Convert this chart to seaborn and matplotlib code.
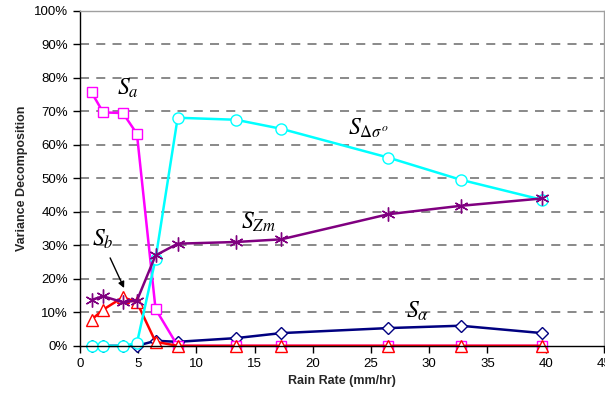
import matplotlib
matplotlib.use('Agg')
import matplotlib.pyplot as plt
import seaborn as sns
from matplotlib.ticker import PercentFormatter

# rain rate values (mm/hr)
rain = [1.0, 2.0, 3.7, 4.9, 6.5, 8.4, 13.4, 17.3, 26.5, 32.7, 39.7]

# variance decomposition (%) per term
s_alpha = [0, 0, 0, 0, 1.5, 1.2, 2.3, 3.8, 5.3, 6.0, 3.8]
s_a = [75.7, 69.7, 69.5, 63.3, 11.0, 0, 0, 0, 0, 0, 0]
s_b = [7.8, 10.8, 14.5, 13.0, 1.2, 0, 0, 0, 0, 0, 0]
s_dsig = [0, 0, 0, 0.8, 25.9, 68.1, 67.5, 64.8, 56.2, 49.6, 43.6]
s_zm = [13.7, 14.8, 13.0, 13.5, 27.0, 30.5, 31.0, 31.8, 39.3, 41.8, 44.0]

xticks = list(range(0, 50, 5))

sns.set_style('white')
plt.rcParams['font.family'] = ['Liberation Sans', 'DejaVu Sans']
plt.rcParams['mathtext.fontset'] = 'stix'

fig = plt.figure(figsize=(6.05, 4.04), dpi=100)
ax = fig.add_axes([0.132, 0.144, 0.866, 0.829])

series = [
    (s_alpha, '#000080', 'D', 6),
    (s_a, '#FF00FF', 's', 7.5),
    (s_b, '#FF0000', '^', 8),
    (s_dsig, '#00FFFF', 'o', 8),
    (s_zm, '#800080', (6, 2, 0), 10),
]
for vals, col, mk, ms in series:
    sns.lineplot(x=rain, y=vals, ax=ax, color=col, marker=mk, markersize=ms,
                 markerfacecolor='white' if mk != (6, 2, 0) else col,
                 markeredgecolor=col, markeredgewidth=1.0, linewidth=1.8,
                 clip_on=False)

ax.set_xlim(0, 45)
ax.set_ylim(0, 100)
ax.set_xticks(xticks)
ax.set_yticks(range(0, 101, 10))
ax.yaxis.set_major_formatter(PercentFormatter(100, decimals=0))

for yv in range(10, 100, 10):
    ax.axhline(yv, color='#808080', lw=1.3, ls=(0, (5, 4)), zorder=0)

for s in ['top', 'right']:
    ax.spines[s].set_color('#a0a0a0')
    ax.spines[s].set_linewidth(1.0)
for s in ['left', 'bottom']:
    ax.spines[s].set_color('black')
    ax.spines[s].set_linewidth(1.0)

ax.tick_params(axis='both', direction='out', length=5, width=1, labelsize=9.5,
               colors='black', bottom=True, left=True)
ax.set_xlabel('Rain Rate (mm/hr)', fontsize=9, fontweight='bold')
ax.set_ylabel('Variance Decomposition', fontsize=9, fontweight='bold')

lbl = dict(fontsize=17, color='black')
ax.text(3.2, 75.0, r'$S_{a}$', **lbl)
ax.text(23.0, 63.0, r'$S_{\Delta\sigma^o}$', **lbl)
ax.text(13.8, 35.0, r'$S_{Zm}$', **lbl)
ax.text(1.0, 30.0, r'$S_{b}$', **lbl)
ax.text(28.0, 8.5, r'$S_{\alpha}$', **lbl)
ax.annotate('', xy=(3.9, 16.5), xytext=(2.5, 27.0),
            arrowprops=dict(arrowstyle='-|>', color='black', lw=1.0,
                            mutation_scale=9))

fig.savefig('out.png', dpi=100)
